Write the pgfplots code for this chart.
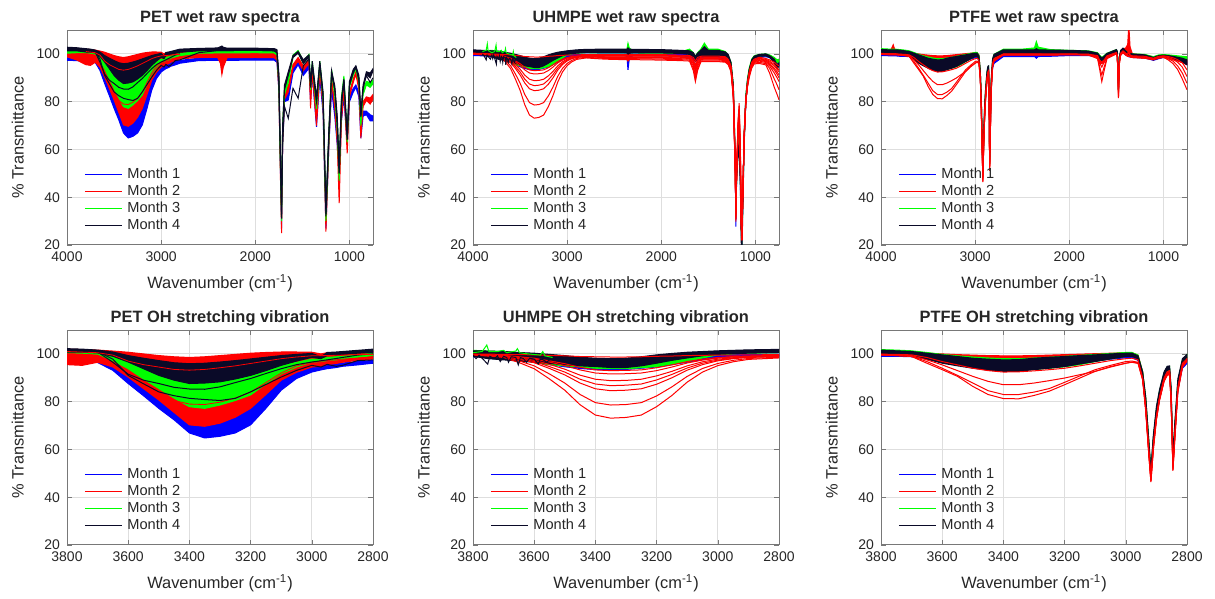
\documentclass[border=0pt]{standalone}
\usepackage{fontspec}
\setmainfont{Liberation Sans}
\usepackage{pgfplots}
\usepackage{pgfplotstable}
\pgfplotsset{compat=1.18}
\usepgfplotslibrary{fillbetween}

\definecolor{m1}{RGB}{0,0,255}
\definecolor{m2}{RGB}{255,0,0}
\definecolor{m3}{RGB}{0,255,0}
\definecolor{m4}{RGB}{10,10,40}
\definecolor{axgray}{RGB}{120,120,120}
\definecolor{gridc}{RGB}{222,222,222}
\definecolor{txt}{RGB}{38,38,38}

% PET: band edges per month (lo/hi) and one black curve with extra dips
\pgfplotstableread{
x blo bhi rlo rhi glo ghi klo khi kb
4000 97.3 98.3 98.8 102.2 100.3 101.2 101.3 102.8 101.5
3900 97.2 98.2 97.5 102.0 100.5 101.2 101.3 102.6 101.5
3800 96.8 98.0 95.5 102.0 100.5 101.2 100.8 102.2 101.4
3750 96.7 97.8 95.2 101.8 100.3 101.0 100.7 102.0 101.3
3700 96.4 97.6 96.5 101.6 99.8 100.8 100.4 101.6 101.0
3650 93.1 96.0 94.5 101.2 97.2 99.5 99.0 100.8 97.8
3600 87.6 92.5 90.3 100.7 93.8 97.2 96.6 99.3 91.0
3550 82.5 88.5 85.5 100.0 89.5 94.5 93.8 98.2 87.5
3500 77.2 84.0 80.7 99.3 85.5 91.7 91.0 97.2 84.1
3450 72.4 79.5 75.5 98.8 81.5 89.5 89.0 96.3 82.5
3400 66.9 74.0 70.3 98.5 77.9 87.6 87.6 95.9 81.4
3350 64.8 72.5 69.7 98.8 77.2 87.8 87.8 96.1 80.9
3300 65.5 73.0 71.0 99.3 78.6 89.0 88.3 96.6 80.5
3250 66.9 74.5 73.5 99.8 80.5 90.3 89.5 97.2 81.4
3200 70.3 77.5 77.2 100.3 82.8 91.7 91.0 97.9 84.1
3150 77.2 83.5 83.0 100.6 87.5 93.5 93.0 98.6 87.2
3100 84.8 89.0 89.0 100.8 91.7 95.2 95.2 99.3 90.3
3050 89.7 92.5 92.3 100.8 94.5 96.5 97.0 99.8 93.1
3000 92.4 94.5 94.5 100.7 96.6 97.8 98.6 100.2 95.2
2970 93.3 94.8 94.8 100.0 96.8 97.8 98.0 98.8 94.5
2950 93.8 95.3 95.5 100.5 97.2 98.5 99.3 100.6 95.6
2920 94.3 95.8 96.0 100.5 97.5 98.8 99.5 100.8 94.8
2900 94.8 96.2 96.5 100.6 97.9 99.0 99.8 101.0 95.2
2850 95.4 96.8 97.3 100.8 98.6 99.6 100.3 101.5 97.2
2800 96.1 97.3 97.9 101.0 99.3 100.2 100.7 102.0 97.5
2600 97.2 98.2 98.5 101.2 100.3 101.0 101.3 102.3 100.5
2400 97.3 98.3 98.5 101.3 100.4 101.1 101.4 102.5 101.4
2370 97.3 98.3 96.0 101.3 100.4 101.2 101.4 103.0 101.4
2355 97.3 98.3 91.4 101.3 100.4 101.5 101.4 103.3 101.4
2340 97.3 98.3 94.5 101.3 100.4 101.2 101.4 102.8 101.4
2300 97.3 98.3 98.4 101.3 100.4 101.1 101.4 102.4 101.4
2000 97.4 98.4 98.5 101.4 100.5 101.2 101.5 102.4 101.5
1800 97.4 98.4 98.4 101.2 100.4 101.0 101.3 102.2 101.3
1770 96.5 97.8 97.5 100.5 99.5 100.5 100.5 101.8 100.5
1750 85.0 88.0 85.0 90.0 87.0 90.0 88.0 92.0 90.0
1735 55.0 58.0 52.0 58.0 56.0 60.0 58.0 62.0 60.0
1721 27.0 33.0 25.0 32.0 30.0 35.0 31.0 35.0 33.0
1710 62.0 66.0 62.0 68.0 65.0 70.0 66.0 70.0 62.0
1690 80.0 83.0 81.0 85.0 83.0 86.0 85.0 87.0 78.0
1650 80.7 83.0 84.0 86.5 88.0 90.0 91.0 92.5 73.0
1600 92.0 93.5 94.0 95.5 98.5 99.5 98.5 99.3 85.6
1545 95.5 96.5 97.0 98.5 100.5 101.4 100.3 101.0 81.4
1490 91.0 93.0 93.0 95.0 96.0 97.0 96.0 97.5 95.0
1430 94.0 95.5 96.0 97.5 99.0 99.8 98.8 99.6 98.0
1413 80.0 82.0 77.2 80.0 85.0 87.0 86.0 88.0 86.0
1395 91.0 92.5 93.0 94.5 96.0 97.0 96.0 97.0 95.0
1350 69.5 72.0 70.0 73.0 77.0 80.0 80.0 82.0 80.0
1315 90.0 91.0 93.0 94.0 96.0 97.0 96.3 97.0 96.0
1280 75.0 78.0 77.0 80.0 80.0 83.0 82.0 84.0 82.0
1250 27.0 32.0 25.6 30.0 30.0 33.0 32.0 35.0 33.0
1220 60.0 63.0 60.0 64.0 62.0 66.0 64.0 67.0 65.0
1190 85.0 86.5 88.5 90.0 92.8 93.5 92.0 93.0 92.0
1155 73.5 75.0 77.0 79.0 82.0 84.0 85.0 86.5 85.0
1130 62.0 66.0 63.0 67.0 68.0 72.0 70.0 74.0 72.0
1109 48.6 52.0 37.5 45.0 47.0 52.0 50.0 54.0 50.0
1085 72.0 75.0 72.0 76.0 78.0 82.0 78.0 81.0 80.0
1059 82.0 83.5 85.0 86.5 90.0 90.8 88.8 89.5 89.0
1024 62.0 65.0 58.4 62.0 63.0 66.0 64.0 67.0 65.0
1000 80.0 82.0 82.0 84.0 86.0 88.0 87.0 88.5 87.0
960 84.0 85.5 88.0 89.5 91.0 92.5 92.0 93.5 92.5
932 86.0 87.0 91.5 92.5 93.7 94.3 94.3 95.0 94.5
900 82.0 84.0 85.0 87.0 88.0 90.0 89.0 91.0 90.0
879 64.7 67.0 64.7 67.0 70.0 73.0 73.5 75.5 74.0
855 74.0 76.0 78.0 80.0 83.0 85.0 85.5 87.0 86.0
820 74.5 76.0 80.5 82.0 87.0 88.5 91.5 92.5 91.0
780 72.0 74.5 79.0 81.5 86.0 88.0 90.0 92.0 88.0
750 72.0 74.0 81.0 83.0 87.5 89.0 92.8 93.8 90.0
}\pet

% PET: single curves seen inside the OH band
\pgfplotstableread{
x ka rr rr2
3800 101.2 101.0 100.0
3700 100.8 100.5 99.5
3650 96.5 99.5 96.5
3600 91.5 97.0 92.5
3550 89.0 95.5 88.0
3500 87.6 94.5 84.0
3450 86.0 93.5 80.5
3400 85.3 93.2 79.0
3350 85.2 93.5 78.8
3300 86.2 94.2 79.8
3250 88.0 95.0 81.5
3200 89.7 96.0 84.0
3150 91.8 97.0 88.0
3100 93.8 98.0 92.0
3050 95.5 98.7 95.0
3000 96.6 99.2 96.5
2950 97.5 99.3 97.2
2900 98.5 99.5 97.8
2850 99.5 99.7 98.3
2800 100.0 99.8 98.8
}\petl

% UHMPE: bands for months 1, 3, 4 and eight month-2 curves
\pgfplotstableread{
x blo bhi glo ghi klo khi r1 r2 r3 r4 r5 r6 r7 r8
4000 99.3 100.2 100.3 101.3 100.0 101.7 99.8 99.9 100.0 100.0 100.1 100.1 100.2 100.3
3900 99.2 100.0 100.0 101.2 99.5 101.5 99.7 99.8 99.9 99.9 100.0 100.0 100.1 100.2
3800 98.8 99.8 99.5 101.5 99.0 101.3 99.6 99.6 99.7 99.7 99.7 99.8 99.8 99.9
3750 98.6 99.6 99.3 101.2 98.0 101.2 99.1 99.2 99.4 99.4 99.5 99.6 99.6 99.9
3700 98.3 99.4 99.0 101.0 97.5 101.0 98.5 98.8 99.0 99.1 99.2 99.3 99.4 99.8
3650 97.5 98.8 97.8 100.5 97.0 100.6 96.4 97.1 97.8 98.1 98.4 98.6 98.8 99.7
3600 96.5 98.0 96.5 99.0 96.5 100.3 93.8 95.0 96.3 96.8 97.3 97.9 98.2 99.6
3550 95.5 97.0 95.5 98.0 96.0 99.8 89.5 91.6 93.9 94.7 95.6 96.6 97.1 99.4
3500 94.6 96.2 95.0 97.3 95.5 99.3 84.8 87.8 91.2 92.4 93.6 95.1 95.9 99.2
3450 93.9 95.5 94.5 96.8 95.0 98.6 78.7 83.0 87.8 89.4 91.1 93.3 94.4 98.9
3400 93.4 95.0 94.0 96.5 94.7 98.2 74.4 79.6 85.4 87.4 89.4 92.0 93.3 98.8
3350 93.3 94.9 93.8 96.2 94.3 98.0 73.1 78.6 84.6 86.7 88.8 91.6 93.0 98.7
3300 93.5 95.0 93.8 96.0 94.3 98.2 73.4 78.8 84.8 86.9 88.9 91.7 93.1 98.7
3250 94.0 95.5 94.2 96.6 95.0 98.8 74.4 79.6 85.4 87.4 89.4 92.0 93.3 98.8
3200 94.5 96.0 94.7 97.5 96.1 99.6 77.9 82.4 87.3 89.1 90.8 93.0 94.2 99.0
3150 95.5 97.0 95.8 98.3 97.3 100.2 82.6 86.2 90.0 91.4 92.7 94.5 95.4 99.1
3100 96.5 98.0 96.8 99.0 98.3 100.7 88.2 90.6 93.2 94.1 95.0 96.2 96.8 99.3
3050 97.6 98.8 98.3 99.8 99.2 101.0 92.4 93.9 95.5 96.1 96.7 97.4 97.8 99.4
3000 98.5 99.5 99.6 100.5 99.8 101.3 95.1 96.0 97.1 97.4 97.8 98.2 98.5 99.5
2950 98.9 99.7 100.0 100.7 100.1 101.5 96.7 97.3 98.0 98.2 98.4 98.7 98.9 99.5
2900 99.1 99.8 100.3 100.9 100.3 101.7 97.7 98.1 98.5 98.7 98.8 99.0 99.1 99.6
2800 99.2 99.9 100.5 101.0 100.6 101.9 98.3 98.6 98.9 99.0 99.2 99.3 99.4 99.7
2600 99.3 100.0 100.4 101.0 100.6 102.0 97.8 98.1 98.4 98.6 98.8 99.1 99.3 99.7
2400 99.3 100.0 100.4 101.0 100.6 102.0 97.6 98.0 98.3 98.5 98.8 99.1 99.4 99.7
2365 99.0 100.0 100.4 102.0 100.5 102.0 97.6 98.0 98.3 98.5 98.8 99.1 99.4 99.7
2354 93.3 99.5 100.4 104.5 99.5 102.5 97.0 97.5 97.8 98.0 98.3 98.6 98.9 99.2
2340 98.0 100.0 100.4 102.5 100.3 102.0 97.6 98.0 98.3 98.5 98.8 99.1 99.4 99.7
2300 99.3 100.0 100.4 101.0 100.5 101.9 97.6 98.0 98.3 98.5 98.8 99.1 99.4 99.7
2000 99.2 99.9 100.3 100.8 100.4 101.8 97.4 97.8 98.2 98.5 98.8 99.1 99.4 99.7
1800 99.0 99.8 100.2 100.8 100.2 101.5 97.2 97.6 98.0 98.3 98.6 98.9 99.2 99.5
1700 98.8 99.6 100.3 102.0 99.8 101.3 97.0 97.4 97.8 98.1 98.4 98.7 99.0 99.3
1660 97.8 99.0 99.0 100.5 98.5 100.5 93.0 94.0 95.0 95.8 96.5 97.0 97.5 98.5
1638 96.8 98.0 97.5 99.0 96.8 99.0 88.4 89.5 91.0 92.5 93.5 94.5 95.5 97.0
1615 97.5 98.8 99.0 100.5 98.3 100.3 93.0 94.0 95.0 95.8 96.5 97.0 97.5 98.5
1580 98.3 99.3 100.0 102.0 99.0 101.5 96.7 97.0 97.4 97.7 98.0 98.3 98.6 99.0
1543 98.3 99.3 100.0 104.5 99.0 103.0 96.8 97.1 97.5 97.8 98.1 98.4 98.7 99.1
1500 98.2 99.2 100.0 102.0 99.0 101.5 96.8 97.1 97.5 97.8 98.1 98.4 98.7 99.1
1400 98.0 99.0 100.0 102.0 99.0 101.5 96.8 97.1 97.5 97.8 98.1 98.4 98.7 99.1
1320 97.8 98.8 99.5 101.0 99.0 100.8 96.5 96.8 97.2 97.5 97.8 98.1 98.4 98.8
1290 97.0 98.0 98.5 99.5 98.5 99.8 95.5 95.8 96.2 96.5 96.8 97.1 97.4 97.8
1260 94.0 95.5 95.0 96.5 95.5 96.5 92.5 93.0 93.3 93.6 94.0 94.3 94.6 95.0
1235 84.0 86.0 85.0 87.0 85.5 87.0 81.5 82.0 82.5 83.0 83.5 84.0 84.5 85.0
1215 52.0 55.0 54.0 57.0 55.0 58.0 50.0 51.0 51.5 52.0 52.5 53.0 53.5 54.0
1208 27.7 31.0 33.0 36.0 35.0 38.0 29.8 30.5 31.0 31.5 32.0 32.5 33.0 34.0
1200 48.0 51.0 48.0 51.0 48.0 51.0 52.0 51.5 51.0 50.5 50.0 50.0 50.0 50.0
1185 62.0 64.0 60.0 63.0 57.0 60.0 72.0 71.0 70.0 69.0 68.0 67.0 66.0 65.0
1173 60.0 62.0 66.0 68.2 61.0 62.6 79.4 78.0 77.0 76.0 75.0 74.0 72.0 70.0
1160 45.0 48.0 48.0 51.0 43.0 46.0 60.0 58.0 57.0 56.0 55.0 54.0 52.0 50.0
1152 28.0 31.0 27.0 30.0 22.0 26.0 36.0 35.0 34.0 33.0 32.0 31.0 30.0 29.0
1145 20.0 23.0 19.0 22.0 14.0 17.0 22.0 22.0 22.0 22.0 22.0 22.0 22.0 22.0
1135 37.0 40.0 36.0 39.0 33.0 36.0 40.0 40.0 40.0 40.0 40.0 40.0 40.0 40.0
1120 64.0 67.0 64.0 67.0 62.0 65.0 66.0 66.0 65.5 65.5 65.0 65.0 64.5 64.5
1102 80.0 82.0 81.0 83.0 80.0 82.0 80.5 80.5 80.5 80.5 80.5 80.5 80.5 80.5
1085 87.0 88.5 88.0 89.5 87.5 89.0 86.0 86.5 86.8 87.0 87.2 87.4 87.6 87.8
1067 92.0 93.0 92.8 94.0 92.5 93.5 90.0 90.5 91.0 91.3 91.6 91.8 92.0 92.3
1040 96.0 97.0 96.8 97.8 96.5 97.5 94.0 94.5 95.0 95.3 95.6 95.9 96.2 96.5
1014 97.5 98.5 98.3 99.2 98.0 99.0 95.8 96.1 96.4 96.7 97.0 97.2 97.5 97.8
960 98.5 99.3 99.2 99.8 99.0 99.8 96.0 96.5 97.0 97.3 97.6 97.9 98.2 98.6
890 98.8 99.6 99.3 100.0 99.2 100.0 95.4 95.9 96.4 96.8 97.1 97.4 97.7 98.1
850 98.5 99.2 98.8 99.6 98.5 99.3 92.0 94.0 95.0 95.6 96.1 96.6 97.0 97.5
800 96.5 97.5 97.5 98.5 96.5 97.8 86.0 89.5 92.0 93.3 94.0 95.0 95.6 96.5
770 94.0 95.5 96.5 97.5 93.8 95.5 83.0 87.0 90.0 91.5 92.5 93.5 94.3 95.5
750 95.0 96.5 96.5 97.8 95.0 96.3 80.8 85.0 88.4 90.0 91.2 92.5 93.3 95.0
}\uh

% PTFE: bands for every month and four separate month-2 curves
\pgfplotstableread{
x blo bhi rlo rhi glo ghi klo khi rA rB rC rD
4000 99.3 100.0 99.8 101.5 101.0 102.2 100.5 101.8 99.8 99.9 100.0 100.2
3900 99.2 100.0 99.6 101.3 100.8 102.0 100.3 101.7 99.7 99.8 99.9 100.1
3870 99.2 100.0 99.6 103.8 100.8 102.0 100.3 101.7 99.7 99.8 99.9 100.1
3850 99.2 100.0 99.6 101.3 100.8 102.0 100.3 101.7 99.7 99.8 99.9 100.1
3800 99.0 99.8 99.5 101.0 100.5 101.8 99.8 101.6 99.6 99.7 99.8 99.9
3750 99.0 99.7 99.3 100.8 100.3 101.6 99.5 101.3 99.3 99.4 99.6 99.8
3700 98.8 99.5 99.0 100.6 99.8 101.3 98.9 101.0 98.9 99.0 99.3 99.6
3650 98.0 99.0 98.3 100.3 98.5 100.6 97.8 100.3 96.1 96.8 97.5 98.5
3600 97.0 98.3 97.8 100.0 97.0 99.8 96.1 99.6 93.4 94.0 95.4 96.8
3550 96.0 97.5 97.5 99.7 95.7 99.2 95.0 98.9 90.6 91.0 93.0 95.4
3500 95.0 96.8 97.3 99.5 94.8 98.7 94.0 98.2 86.4 87.8 90.6 94.0
3450 94.2 96.2 97.1 99.3 94.0 98.3 93.2 97.8 83.0 84.6 88.5 93.0
3400 93.6 95.8 97.0 99.2 93.4 98.0 92.7 97.5 81.3 83.0 87.1 92.4
3350 93.5 95.7 97.0 99.2 93.3 98.0 92.7 97.6 81.2 83.0 87.1 92.5
3300 93.8 96.0 97.2 99.3 93.5 98.3 93.4 98.2 82.6 84.0 87.8 92.9
3250 94.3 96.4 97.4 99.5 94.0 98.6 94.0 98.6 84.4 85.5 88.8 93.4
3200 95.0 97.0 97.7 99.7 94.6 99.0 94.7 98.9 87.1 88.1 89.9 94.0
3150 96.0 97.7 98.0 99.9 95.5 99.4 95.8 99.3 89.9 90.8 91.3 95.0
3100 97.0 98.4 98.4 100.1 96.8 99.8 96.8 99.6 92.7 93.4 92.7 96.1
3050 97.8 99.0 98.8 100.3 98.0 100.2 97.9 100.0 94.7 95.2 94.5 97.2
3000 98.4 99.4 99.2 100.5 99.0 100.6 98.9 100.3 96.1 96.8 96.1 98.0
2980 98.4 99.4 99.2 100.5 99.2 100.6 99.0 100.3 96.5 97.0 96.6 98.2
2960 97.3 98.5 98.0 99.5 98.2 99.5 98.0 99.2 96.0 96.5 96.2 97.5
2945 90.0 92.0 90.0 92.5 90.5 92.5 90.5 92.5 89.0 89.5 89.5 90.0
2935 78.0 81.0 77.0 81.0 79.0 82.0 79.0 82.0 76.0 77.0 77.0 78.0
2925 60.0 63.0 58.0 63.0 61.0 64.0 61.0 64.0 58.0 59.0 59.0 60.0
2918 49.0 51.0 46.3 49.0 49.5 51.0 49.8 51.5 46.5 47.0 47.5 48.0
2910 62.0 65.0 60.0 64.0 62.0 65.0 63.0 66.0 60.0 61.0 61.5 62.0
2900 73.5 76.0 72.5 76.0 74.0 77.0 75.0 78.0 72.5 73.0 73.5 74.0
2890 81.0 83.5 80.5 83.5 82.0 84.5 83.0 85.0 80.5 81.0 81.5 82.0
2875 89.0 91.0 88.5 91.0 90.0 92.0 90.5 92.5 88.5 89.0 89.5 90.0
2865 91.5 93.5 91.0 93.0 92.5 94.5 93.0 94.8 91.0 91.5 92.0 92.5
2857 92.0 93.8 91.5 93.3 93.0 94.7 93.5 95.0 91.5 92.0 92.5 93.0
2852 82.0 85.0 80.0 84.0 82.0 85.0 83.0 86.0 80.0 81.0 81.5 82.0
2846 54.0 57.0 51.0 55.0 54.0 57.0 55.0 58.0 51.5 52.0 52.5 53.0
2840 66.0 69.0 64.0 68.0 67.0 70.0 68.0 71.0 64.0 65.0 65.5 66.0
2830 85.0 87.5 84.0 87.5 86.0 88.5 87.0 89.5 84.0 85.0 85.5 86.0
2815 94.0 95.5 94.5 96.5 96.0 97.5 96.5 98.0 94.5 95.0 95.5 96.0
2800 96.0 97.5 97.0 98.5 98.5 99.8 98.5 99.8 97.0 97.3 97.6 98.0
2700 98.9 99.6 99.5 100.8 100.8 102.0 100.3 101.7 99.6 99.7 99.8 100.0
2500 98.9 99.6 99.5 100.8 100.8 102.0 100.3 101.7 99.6 99.7 99.8 100.0
2370 98.9 99.6 99.5 100.8 100.8 102.5 100.3 101.7 99.6 99.7 99.8 100.0
2350 98.2 99.4 99.5 100.8 100.8 105.2 100.3 102.2 99.6 99.7 99.8 100.0
2330 98.9 99.6 99.5 100.8 100.8 102.8 100.3 101.7 99.6 99.7 99.8 100.0
2200 99.0 99.7 99.5 100.8 100.7 101.8 100.2 101.6 99.6 99.7 99.8 100.0
2000 99.3 100.0 99.6 100.8 100.5 101.5 100.2 101.5 99.7 99.8 99.9 100.0
1800 99.3 100.0 99.5 100.6 100.3 101.3 100.0 101.2 99.6 99.7 99.8 99.9
1700 98.8 99.5 98.5 99.8 99.5 100.5 99.2 100.3 98.0 98.5 99.0 99.3
1680 98.0 99.0 96.0 98.5 98.5 99.5 98.2 99.3 94.0 95.0 96.5 97.5
1655 97.0 98.0 96.0 97.5 97.5 98.5 97.3 98.3 88.4 91.2 94.5 96.0
1630 97.8 98.8 96.5 98.5 98.3 99.3 98.0 99.0 93.0 94.5 96.5 97.5
1600 98.8 99.6 98.5 99.8 99.5 100.3 99.3 100.2 98.0 98.3 98.8 99.2
1500 100.0 101.0 100.2 101.3 100.8 101.8 100.7 101.8 100.0 100.2 100.4 100.6
1490 99.0 100.5 99.0 100.5 99.5 101.0 99.5 101.0 98.5 98.8 99.0 99.3
1478 85.0 87.0 81.5 85.0 84.5 86.5 85.0 87.0 82.0 83.0 83.5 84.0
1468 97.0 98.5 96.0 98.0 97.0 98.5 97.5 98.8 96.0 96.5 97.0 97.5
1455 99.5 100.5 99.5 101.0 100.0 101.2 100.0 101.5 99.5 99.8 100.0 100.3
1430 100.5 101.5 100.5 102.0 101.0 102.0 101.0 102.4 100.5 100.8 101.0 101.3
1400 99.5 100.5 99.5 102.5 100.0 101.2 100.0 101.2 99.5 99.8 100.0 100.3
1380 99.0 100.0 99.0 104.0 99.5 100.5 99.5 100.5 99.0 99.3 99.5 99.8
1368 98.8 99.8 99.0 112.0 99.3 100.3 99.2 100.3 99.0 99.2 101.0 103.0
1355 98.7 99.7 98.8 103.0 99.2 100.2 99.1 100.2 98.8 99.0 99.2 99.5
1330 98.5 99.5 98.5 100.0 99.2 100.0 99.0 100.0 98.5 98.7 98.9 99.2
1200 98.3 99.2 98.2 99.5 99.0 99.8 98.8 99.6 98.2 98.4 98.7 99.0
1106 97.3 98.5 97.5 98.8 97.8 98.8 97.5 98.5 97.6 97.8 98.0 98.2
1050 98.0 99.0 98.2 99.3 98.8 99.6 98.5 99.3 98.3 98.5 98.7 99.0
1000 98.5 99.3 98.5 99.5 99.0 99.7 98.8 99.5 98.6 98.8 99.0 99.2
950 98.2 99.0 98.0 99.2 98.8 99.6 98.5 99.3 97.5 98.0 98.5 98.9
900 97.8 98.6 97.5 98.8 98.6 99.4 98.0 99.0 96.0 97.0 97.8 98.4
850 97.2 98.2 97.0 98.4 98.3 99.2 97.5 98.6 93.5 95.0 96.5 97.6
800 96.5 97.6 96.3 98.0 98.0 99.0 96.8 98.2 89.5 92.0 94.5 96.3
750 95.5 96.8 95.5 97.5 97.5 98.8 95.4 97.5 85.0 87.7 90.5 93.3
}\ptfe

\pgfplotsset{
  spec/.style={
    width=153pt, height=107.5pt, scale only axis,
    x dir=reverse, ymin=20, ymax=110, ytick={20,40,...,100},
    grid=major, major grid style={gridc, line width=0.5pt},
    axis line style={axgray, line width=0.5pt},
    tick style={axgray}, tick align=inside, major tick length=2.5pt,
    ticklabel style={font=\fontsize{7}{8}\selectfont, text=txt},
    /pgf/number format/assume math mode=true,
    /pgf/number format/1000 sep={},
    xlabel={Wavenumber (cm\textsuperscript{-1})},
    ylabel={\% Transmittance},
    label style={font=\fontsize{8.2}{9.5}\selectfont, text=txt},
    xlabel style={yshift=0.5pt},
    ylabel style={yshift=-0.5pt},
    every axis title shift=0pt,
    title style={font=\bfseries\fontsize{8.2}{9.5}\selectfont, text=txt, yshift=-1.5pt},
    legend style={at={(0.055,0.05)}, anchor=south west, draw=none, fill=none,
      inner sep=0pt, row sep=0.2pt,
      /tikz/every odd column/.append style={column sep=1.8pt},
      nodes={inner sep=0.7pt, text height=5.4pt, text depth=1.5pt,
        font=\fontsize{7.3}{8}\selectfont, text=txt}},
    legend cell align=left,
    legend image code/.code={\draw[##1, line width=0.6pt] (0pt,0pt) -- (18.5pt,0pt);},
    every axis plot/.append style={line width=0.5pt},
  },
  top/.style={spec, xmin=750, xmax=4000, xtick={1000,2000,3000,4000}},
  bot/.style={spec, xmin=2800, xmax=3800, xtick={2800,3000,...,3800}},
}

% band between two columns of a table: table, lo, hi, colour, path id
\newcommand{\band}[5]{%
  \addplot[name path=#5lo, draw=none, forget plot] table[x=x,y=#2]{#1};
  \addplot[name path=#5hi, draw=none, forget plot] table[x=x,y=#3]{#1};
  \addplot[fill=#4, draw=#4, line width=0.5pt, forget plot] fill between[of=#5lo and #5hi];
}
\newcommand{\monthlegend}{%
  \addlegendimage{m1}\addlegendimage{m2}\addlegendimage{m3}\addlegendimage{m4}
  \legend{Month 1,Month 2,Month 3,Month 4}
}
\newcommand{\petplots}[1]{%
  \band{\pet}{blo}{bhi}{m1}{#1b}
  \band{\pet}{rlo}{rhi}{m2}{#1r}
  \band{\pet}{glo}{ghi}{m3}{#1g}
  \band{\pet}{klo}{khi}{m4}{#1k}
  \addplot[m2, line width=0.4pt, forget plot] table[x=x,y=rr2]{\petl};
  \addplot[m4, forget plot] table[x=x,y=kb]{\pet};
  \addplot[m4, forget plot] table[x=x,y=ka]{\petl};
  \addplot[m2, line width=0.4pt, forget plot] table[x=x,y=rr]{\petl};
  \monthlegend
}
\newcommand{\uhplots}[1]{%
  \band{\uh}{blo}{bhi}{m1}{#1b}
  \band{\uh}{glo}{ghi}{m3}{#1g}
  \band{\uh}{klo}{khi}{m4}{#1k}
  \addplot[m2, forget plot] table[x=x,y=r1]{\uh};
  \addplot[m2, forget plot] table[x=x,y=r2]{\uh};
  \addplot[m2, forget plot] table[x=x,y=r3]{\uh};
  \addplot[m2, forget plot] table[x=x,y=r4]{\uh};
  \addplot[m2, forget plot] table[x=x,y=r5]{\uh};
  \addplot[m2, forget plot] table[x=x,y=r6]{\uh};
  \addplot[m2, forget plot] table[x=x,y=r7]{\uh};
  \addplot[m2, forget plot] table[x=x,y=r8]{\uh};
  \addplot[m3, forget plot] coordinates {(3900,101)(3860,101.5)(3848,104.2)(3840,101.5)(3800,100.5)
    (3770,101)(3755,103.7)(3748,101)(3720,101)(3700,101.5)(3690,100.5)(3660,101.2)(3655,102.2)
    (3648,100.5)(3620,100)(3580,99.5)(3572,101)(3565,99.2)(3540,98.5)};
  \addplot[m4, forget plot] coordinates {(3900,100)(3880,99)(3860,97.5)(3850,99.5)(3830,98.5)
    (3815,97.8)(3800,99.5)(3790,98)(3780,99.5)(3765,97.5)(3752,95.7)(3745,99)(3730,98)(3720,99.2)
    (3711,96.8)(3700,99)(3690,98.5)(3684,96.5)(3675,98.8)(3660,98.5)(3652,95.4)(3645,98.5)
    (3635,98)(3625,96.5)(3615,98.2)(3600,97.8)(3587,95.8)(3580,97.8)(3570,97.5)(3560,96.5)(3550,97.5)};
  \monthlegend
}
\newcommand{\ptfeplots}[1]{%
  \band{\ptfe}{blo}{bhi}{m1}{#1b}
  \band{\ptfe}{rlo}{rhi}{m2}{#1r}
  \band{\ptfe}{glo}{ghi}{m3}{#1g}
  \band{\ptfe}{klo}{khi}{m4}{#1k}
  \addplot[m2, forget plot] table[x=x,y=rA]{\ptfe};
  \addplot[m2, forget plot] table[x=x,y=rB]{\ptfe};
  \addplot[m2, forget plot] table[x=x,y=rC]{\ptfe};
  \addplot[m2, forget plot] table[x=x,y=rD]{\ptfe};
  \monthlegend
}

\begin{document}
\begin{tikzpicture}
\begin{axis}[top, at={(33.5pt,177pt)}, anchor=south west, title={PET wet raw spectra}]
\petplots{pa}
\end{axis}
\begin{axis}[top, at={(236.5pt,177pt)}, anchor=south west, title={UHMPE wet raw spectra}]
\uhplots{ua}
\end{axis}
\begin{axis}[top, at={(440.5pt,177pt)}, anchor=south west, title={PTFE wet raw spectra}]
\ptfeplots{ta}
\end{axis}

\begin{axis}[bot, at={(33.5pt,27pt)}, anchor=south west, title={PET OH stretching vibration}]
\petplots{pb}
\end{axis}
\begin{axis}[bot, at={(236.5pt,27pt)}, anchor=south west, title={UHMPE OH stretching vibration}]
\uhplots{ub}
\end{axis}
\begin{axis}[bot, at={(440.5pt,27pt)}, anchor=south west, title={PTFE OH stretching vibration}]
\ptfeplots{tb}
\end{axis}
\pgfresetboundingbox
\path[use as bounding box] (0,0) rectangle (607.5pt,299.5pt);
\end{tikzpicture}
\end{document}
